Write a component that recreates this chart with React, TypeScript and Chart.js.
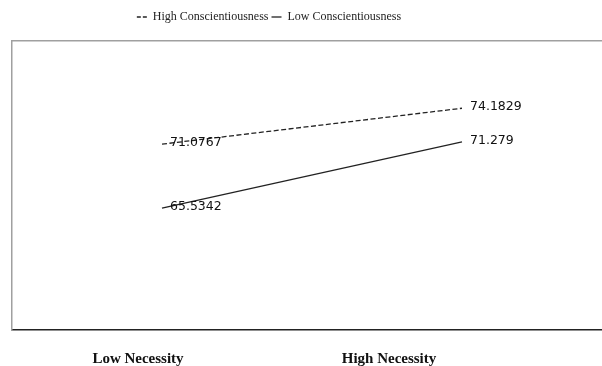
import React, { useEffect, useRef } from "react";
import { Chart, registerables } from "chart.js";

Chart.register(...registerables);

const categories = ["Low Necessity", "High Necessity"];
const highConsc = [71.0767, 74.1829];
const lowConsc = [65.5342, 71.279];
const seriesNames = ["High Conscientiousness", "Low Conscientiousness"];

const valueLabels = {
  id: "valueLabels",
  afterDatasetsDraw(chart: any) {
    const ctx = chart.ctx;
    ctx.save();
    ctx.font = "12.5px 'DejaVu Sans'";
    ctx.fillStyle = "#111";
    ctx.textAlign = "left";
    ctx.textBaseline = "middle";
    chart.data.datasets.forEach((ds: any, i: number) => {
      const meta = chart.getDatasetMeta(i);
      meta.data.forEach((pt: any, j: number) => {
        const v = ds.data[j].y;
        ctx.fillText(String(v), pt.x + 8, pt.y - 1);
      });
    });
    ctx.restore();
  },
};

// legend is centred over the left part of the canvas, as in the original
const legendShift = {
  id: "legendShift",
  afterLayout(chart: any) {
    if (chart.legend) chart.legend.right = chart.legend.right - 76;
  },
};

export default function App() {
  const ref = useRef<HTMLCanvasElement>(null);
  useEffect(() => {
    if (!ref.current) return;
    const toPts = (arr: number[]) => arr.map((y, i) => ({ x: i, y }));
    const chart = new Chart(ref.current, {
      type: "line",
      data: {
        datasets: [
          {
            label: seriesNames[0],
            data: toPts(highConsc),
            borderColor: "#222",
            backgroundColor: "rgba(0,0,0,0)",
            borderWidth: 1.3,
            borderDash: [5, 2.5],
            pointRadius: 0,
            xAxisID: "x",
            yAxisID: "y",
          },
          {
            label: seriesNames[1],
            data: toPts(lowConsc),
            borderColor: "#222",
            backgroundColor: "rgba(0,0,0,0)",
            borderWidth: 1.3,
            pointRadius: 0,
            xAxisID: "x",
            yAxisID: "y",
          },
        ],
      },
      options: {
        animation: false,
        responsive: false,
        layout: { padding: { left: 12, right: 0, top: 8, bottom: -22 } },
        plugins: {
          tooltip: { enabled: false },
          legend: {
            position: "top",
            labels: {
              usePointStyle: true,
              pointStyle: "line",
              pointStyleWidth: 10,
              boxWidth: 10,
              padding: 3,
              color: "#222",
              font: { family: "'Liberation Serif'", size: 12 },
              generateLabels: (chart: any) => {
                const items = Chart.defaults.plugins.legend.labels.generateLabels(chart);
                items.forEach((it: any, i: number) => {
                  it.lineDash = i === 0 ? [4, 2] : [];
                  it.lineWidth = 1.3;
                });
                return items;
              },
            },
          },
        },
        scales: {
          x: {
            type: "linear",
            min: -0.5,
            max: -0.5 + 590 / 300,
            display: false,
          },
          xl: {
            type: "linear",
            position: "bottom",
            min: -0.502,
            max: -0.502 + 590 / 251,
            afterBuildTicks: (axis: any) => {
              axis.ticks = categories.map((_, i) => ({ value: i }));
            },
            ticks: {
              callback: (v: any) => categories[v as number] ?? "",
              color: "#111",
              padding: 20,
              maxRotation: 0,
              font: { family: "'Liberation Serif'", size: 15, weight: "bold" },
            },
            grid: { display: false, drawTicks: false },
            border: { color: "#222", width: 1.5 },
          },
          xt: {
            type: "linear",
            position: "top",
            min: 0,
            max: 1,
            ticks: { display: false },
            grid: { display: false, drawTicks: false },
            border: { color: "#a0a0a0", width: 1.5 },
            afterFit: (axis: any) => {
              axis.height = 8;
            },
          },
          y: {
            min: 55,
            max: 80,
            ticks: { display: false },
            grid: { display: false, drawTicks: false },
            border: { color: "#a0a0a0", width: 1.5 },
          },
        },
      } as any,
      plugins: [valueLabels, legendShift],
    });
    return () => chart.destroy();
  }, []);
  return (
    <div style={{ position: "absolute", left: 0, top: 0, width: 602, height: 366, background: "#fff" }}>
      <canvas ref={ref} width={602} height={366} style={{ width: 602, height: 366 }} />
    </div>
  );
}
